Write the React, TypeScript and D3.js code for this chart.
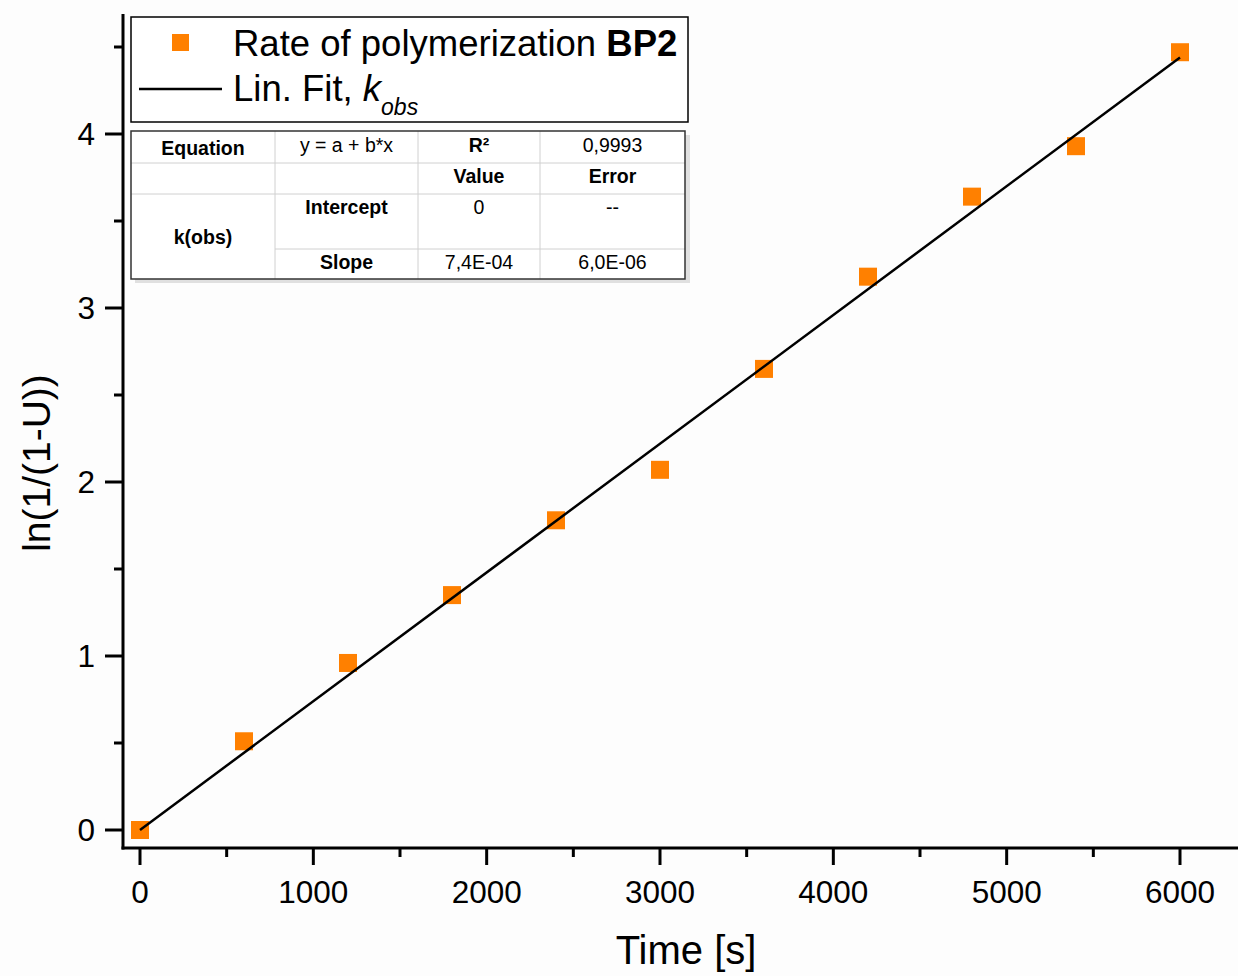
import React from "react";
import * as d3 from "d3";

const timeValues = [0, 600, 1200, 1800, 2400, 3000, 3600, 4200, 4800, 5400, 6000];
const lnValues = [0, 0.51, 0.96, 1.35, 1.78, 2.07, 2.65, 3.18, 3.64, 3.93, 4.47];
const fitIntercept = 0;
const fitSlope = 7.4e-4;
const xTicks = [0, 1000, 2000, 3000, 4000, 5000, 6000];
const xMinorTicks = [500, 1500, 2500, 3500, 4500, 5500];
const yTicks = [0, 1, 2, 3, 4];
const yMinorTicks = [0.5, 1.5, 2.5, 3.5, 4.5];
const tableRows = [
  ["Equation", "y = a + b*x", "R²", "0,9993"],
  ["", "", "Value", "Error"],
  ["k(obs)", "Intercept", "0", "--"],
  ["", "Slope", "7,4E-04", "6,0E-06"],
];

const W = 1238;
const H = 976;
const FONT = "Liberation Sans, Arial, sans-serif";

export default function App() {
  const x = d3.scaleLinear().domain([0, 6000]).range([140, 1180]);
  const y = d3.scaleLinear().domain([0, 4]).range([830, 134]);
  const axisLeft = 123;
  const axisBottom = 848;
  const axisTop = 14;
  const axisRight = 1238;

  const fitLine = d3
    .line<number>()
    .x((t) => x(t))
    .y((t) => y(fitIntercept + fitSlope * t));

  const ms = 18;
  const orange = "#ff8000";

  const colX = [131, 275, 418, 540, 685];
  const rowY = [131, 163, 194, 249, 279];
  const tfs = 19.5;

  return (
    <svg
      width={W}
      height={H}
      style={{ position: "absolute", left: 0, top: 0, display: "block", background: "#fdfdfd" }}
      fontFamily={FONT}
    >
      <rect x={0} y={0} width={W} height={H} fill="#fdfdfd" />
      <line x1={axisLeft} y1={axisTop} x2={axisLeft} y2={axisBottom + 1.5} stroke="#000" strokeWidth={3} />
      <line x1={axisLeft - 1.5} y1={axisBottom} x2={axisRight} y2={axisBottom} stroke="#000" strokeWidth={3} />
      {xTicks.map((t) => (
        <g key={"xt" + t}>
          <line x1={x(t)} x2={x(t)} y1={axisBottom} y2={axisBottom + 17} stroke="#000" strokeWidth={3} />
          <text x={x(t)} y={903} textAnchor="middle" fontSize={31.5} fill="#000">
            {t}
          </text>
        </g>
      ))}
      {xMinorTicks.map((t) => (
        <line key={"xm" + t} x1={x(t)} x2={x(t)} y1={axisBottom} y2={axisBottom + 9} stroke="#000" strokeWidth={3} />
      ))}
      {yTicks.map((t) => (
        <g key={"yt" + t}>
          <line x1={axisLeft - 18} x2={axisLeft} y1={y(t)} y2={y(t)} stroke="#000" strokeWidth={3} />
          <text x={95} y={y(t) + 11} textAnchor="end" fontSize={31.5} fill="#000">
            {t}
          </text>
        </g>
      ))}
      {yMinorTicks.map((t) => (
        <line key={"ym" + t} x1={axisLeft - 9} x2={axisLeft} y1={y(t)} y2={y(t)} stroke="#000" strokeWidth={3} />
      ))}
      <text x={686} y={964} textAnchor="middle" fontSize={40} fill="#000">
        Time [s]
      </text>
      <text transform={`translate(50,463) rotate(-90)`} textAnchor="middle" fontSize={39} fill="#000">
        ln(1/(1-U))
      </text>

      {timeValues.map((t, i) => (
        <rect
          key={"p" + i}
          x={x(t) - ms / 2}
          y={y(lnValues[i]) - ms / 2}
          width={ms}
          height={ms}
          fill={orange}
        />
      ))}
      <path d={fitLine([0, 6000]) || ""} fill="none" stroke="#000" strokeWidth={2.5} />

      <rect x={131} y={17} width={557} height={105} fill="#fff" stroke="#000" strokeWidth={1.5} />
      <rect x={172} y={34} width={17} height={17} fill={orange} />
      <text x={233} y={56} fontSize={36.5} fill="#000">
        Rate of polymerization <tspan fontWeight="bold">BP2</tspan>
      </text>
      <line x1={139} x2={222} y1={89} y2={89} stroke="#000" strokeWidth={2.5} />
      <text x={233} y={101} fontSize={36.5} fill="#000">
        Lin. Fit, <tspan fontStyle="italic">k</tspan>
        <tspan fontStyle="italic" fontSize={23} dy={14}>obs</tspan>
      </text>

      <rect x={135} y={135} width={555} height={148} fill="#e0e0e0" />
      <rect x={colX[0]} y={rowY[0]} width={colX[4] - colX[0]} height={rowY[4] - rowY[0]} fill="#fff" />
      {[1, 2, 3].map((r) => (
        <line
          key={"hr" + r}
          x1={r === 3 ? colX[1] : colX[0]}
          x2={colX[4]}
          y1={rowY[r]}
          y2={rowY[r]}
          stroke="#d0d0d0"
          strokeWidth={1}
        />
      ))}
      {[1, 2, 3].map((c) => (
        <line key={"vc" + c} x1={colX[c]} x2={colX[c]} y1={rowY[0]} y2={rowY[4]} stroke="#d0d0d0" strokeWidth={1} />
      ))}
      <rect
        x={colX[0]}
        y={rowY[0]}
        width={colX[4] - colX[0]}
        height={rowY[4] - rowY[0]}
        fill="none"
        stroke="#333"
        strokeWidth={1.5}
      />
      <text x={(colX[0] + colX[1]) / 2} y={155} textAnchor="middle" fontSize={tfs} fontWeight="bold">{tableRows[0][0]}</text>
      <text x={(colX[1] + colX[2]) / 2} y={152} textAnchor="middle" fontSize={tfs}>{tableRows[0][1]}</text>
      <text x={(colX[2] + colX[3]) / 2} y={152} textAnchor="middle" fontSize={tfs} fontWeight="bold">{tableRows[0][2]}</text>
      <text x={(colX[3] + colX[4]) / 2} y={152} textAnchor="middle" fontSize={tfs}>{tableRows[0][3]}</text>
      <text x={(colX[2] + colX[3]) / 2} y={183} textAnchor="middle" fontSize={tfs} fontWeight="bold">{tableRows[1][2]}</text>
      <text x={(colX[3] + colX[4]) / 2} y={183} textAnchor="middle" fontSize={tfs} fontWeight="bold">{tableRows[1][3]}</text>
      <text x={(colX[0] + colX[1]) / 2} y={244} textAnchor="middle" fontSize={tfs} fontWeight="bold">{tableRows[2][0]}</text>
      <text x={(colX[1] + colX[2]) / 2} y={214} textAnchor="middle" fontSize={tfs} fontWeight="bold">{tableRows[2][1]}</text>
      <text x={(colX[2] + colX[3]) / 2} y={214} textAnchor="middle" fontSize={tfs}>{tableRows[2][2]}</text>
      <text x={(colX[3] + colX[4]) / 2} y={214} textAnchor="middle" fontSize={tfs}>{tableRows[2][3]}</text>
      <text x={(colX[1] + colX[2]) / 2} y={269} textAnchor="middle" fontSize={tfs} fontWeight="bold">{tableRows[3][1]}</text>
      <text x={(colX[2] + colX[3]) / 2} y={269} textAnchor="middle" fontSize={tfs}>{tableRows[3][2]}</text>
      <text x={(colX[3] + colX[4]) / 2} y={269} textAnchor="middle" fontSize={tfs}>{tableRows[3][3]}</text>
    </svg>
  );
}
